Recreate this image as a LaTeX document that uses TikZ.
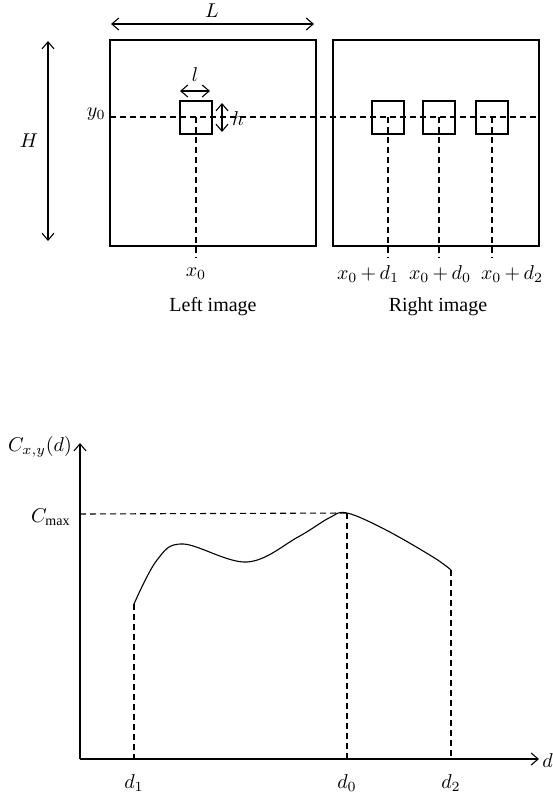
\documentclass[tikz,border=0pt]{standalone}
\usepackage{fontspec}
\setmainfont{Liberation Serif}
\usetikzlibrary{arrows.meta}
\tikzset{
  lw/.style={line width=0.55pt},
  dsh/.style={line width=0.55pt, dash pattern=on 3pt off 2pt},
  dbl/.style={lw, {Straight Barb[length=3.5pt,width=6pt]}-{Straight Barb[length=3.5pt,width=6pt]}},
  one/.style={lw, -{Straight Barb[length=3.5pt,width=6pt]}},
  lbl/.style={inner sep=0pt, font=\fontsize{10}{12}\selectfont},
}
\newcommand{\pl}{{\,+\,}}
\begin{document}
\begin{tikzpicture}[x=0.5pt,y=-0.5pt]
\useasboundingbox (0,0) rectangle (552,797);
% image frames
\coordinate (LA) at (110,40); \coordinate (LB) at (316,246);
\coordinate (RA) at (333,40); \coordinate (RB) at (539,246);
\draw[lw] (LA) rectangle (LB);
\draw[lw] (RA) rectangle (RB);
% windows
\coordinate (w0a) at (180,101); \coordinate (w0b) at (212,134);
\coordinate (w1a) at (372,101); \coordinate (w1b) at (404,134);
\coordinate (w2a) at (423,101); \coordinate (w2b) at (455,134);
\coordinate (w3a) at (476,101); \coordinate (w3b) at (508,134);
\draw[lw] (w0a) rectangle (w0b);
\draw[lw] (w1a) rectangle (w1b);
\draw[lw] (w2a) rectangle (w2b);
\draw[lw] (w3a) rectangle (w3b);
% y0 line
\coordinate (yl) at (110,117); \coordinate (yr) at (539,117);
\draw[dsh] (yl) -- (yr);
\node[lbl, anchor=east] (y0) at (106,114) {$y_0$};
% vertical dashed
\coordinate (v0t) at (196,117); \coordinate (v0b) at (196,258);
\coordinate (v1t) at (388,117); \coordinate (v1b) at (388,258);
\coordinate (v2t) at (439,117); \coordinate (v2b) at (439,258);
\coordinate (v3t) at (492,117); \coordinate (v3b) at (492,258);
\draw[dsh] (v0t) -- (v0b);
\draw[dsh] (v1t) -- (v1b);
\draw[dsh] (v2t) -- (v2b);
\draw[dsh] (v3t) -- (v3b);
% L, H, l, h
\coordinate (La) at (111,24); \coordinate (Lb) at (314,24);
\draw[dbl] (La) -- (Lb);
\node[lbl] (Lt) at (212,11) {$L$};
\coordinate (Ha) at (48,41); \coordinate (Hb) at (48,241);
\draw[dbl] (Ha) -- (Hb);
\node[lbl] (Ht) at (29,141) {$H$};
\coordinate (la) at (180,91); \coordinate (lb) at (210,91);
\draw[dbl] (la) -- (lb);
\node[lbl] (lt) at (195,75) {$l$};
\coordinate (ha) at (222,103); \coordinate (hb) at (222,132);
\draw[dbl] (ha) -- (hb);
\node[lbl] (ht) at (238,119) {$h$};
% bottom labels
\node[lbl] (x0) at (196,274) {$x_0$};
\node[lbl] (x1) at (368,274) {$x_0\pl d_1$};
\node[lbl] (x2) at (440,274) {$x_0\pl d_0$};
\node[lbl] (x3) at (512,274) {$x_0\pl d_2$};
\node[lbl] (lim) at (213,307) {Left image};
\node[lbl] (rim) at (438,307) {Right image};
% graph axes
\coordinate (O) at (80,759);
\coordinate (Yt) at (80,443);
\coordinate (Xr) at (539,759);
\draw[one] (O) -- (Yt);
\draw[one] (O) -- (Xr);
\node[lbl, anchor=west] (dlab) at (542,761) {$d$};
\node[lbl] (Clab) at (40,447) {$C_{x,y}(d)$};
% curve
\coordinate (P1) at (134,604);
\coordinate (P0) at (347,513);
\coordinate (P2) at (451,570);
\draw[lw] plot[smooth, tension=0.6] coordinates {(134,604) (157,560) (183,544) (247,562) (298,537) (329,518) (347,513) (386,530) (433,557) (451,570)};
% dashed guides
\coordinate (P1b) at (134,759); \coordinate (P0b) at (347,759); \coordinate (P2b) at (451,759);
\coordinate (Cl) at (80,514);
\draw[dsh] (P1) -- (P1b);
\draw[dsh] (P0) -- (P0b);
\draw[dsh] (P2) -- (P2b);
\draw[dsh] (Cl) -- (P0);
\node[lbl, anchor=east] (cmax) at (71,517) {$C_{\mathrm{max}}$};
\node[lbl] (d1) at (134,783) {$d_1$};
\node[lbl] (d0) at (347,783) {$d_0$};
\node[lbl] (d2) at (451,783) {$d_2$};
\end{tikzpicture}
\end{document}
